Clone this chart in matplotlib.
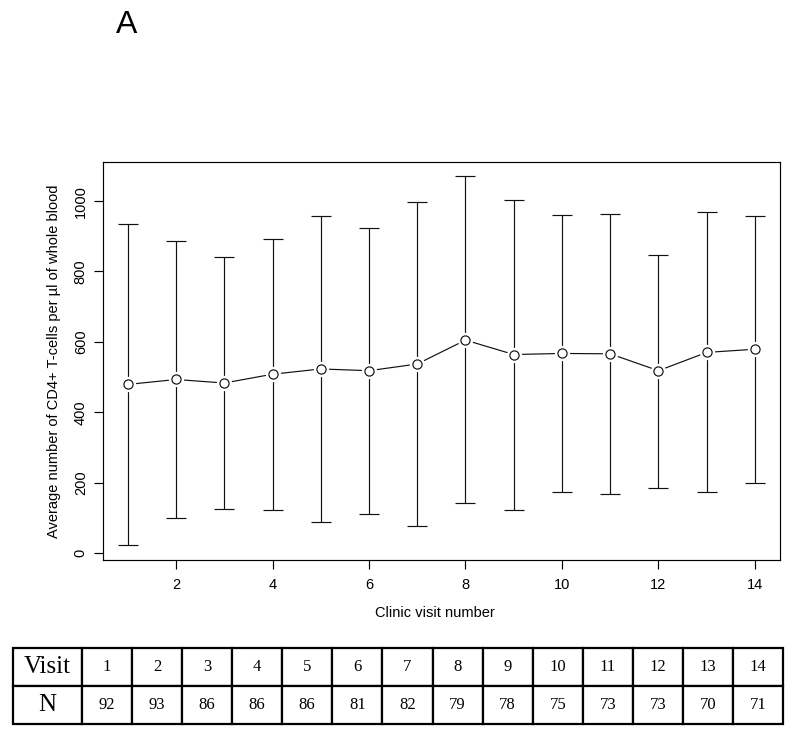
import numpy as np
import matplotlib
matplotlib.use("Agg")
import matplotlib.pyplot as plt

# values
visits = np.arange(1, 15)
mean_cd4 = [479, 493, 483, 508, 523, 518, 537, 605, 564, 567, 566, 518, 570, 579]
upper_cd4 = [935, 888, 842, 893, 957, 924, 997, 1071, 1002, 960, 962, 848, 968, 959]
lower_cd4 = [22, 99, 125, 122, 88, 112, 77, 141, 123, 172, 168, 186, 173, 198]
n_patients = [92, 93, 86, 86, 86, 81, 82, 79, 78, 75, 73, 73, 70, 71]

plt.rcParams['font.family'] = ['Liberation Sans', 'DejaVu Sans']

fig = plt.figure(figsize=(8, 7.35), dpi=100)
ax = fig.add_axes([0.1284, 0.2381, 0.975 - 0.1284, 0.78 - 0.2381])

mean_arr = np.array(mean_cd4)
yerr = [mean_arr - np.array(lower_cd4), np.array(upper_cd4) - mean_arr]
ax.errorbar(visits, mean_cd4, yerr=yerr, fmt='none', ecolor='#111111',
            elinewidth=0.85, capsize=7.2, capthick=0.85, zorder=1)
ax.plot(visits, mean_cd4, color='#111111', lw=0.85, zorder=2)
# white halo so the lines stop short of the circles (R type="b")
ax.plot(visits, mean_cd4, 'o', ms=11, mfc='white', mec='none', zorder=3)
ax.plot(visits, mean_cd4, 'o', ms=6.6, mfc='white', mec='#111111', mew=0.85, zorder=4)

ax.set_xlim(0.48, 14.52)
ax.set_ylim(-20, 1112)
ax.set_xticks(np.arange(2, 15, 2))
ax.set_yticks(np.arange(0, 1001, 200))
ax.tick_params(axis='both', labelsize=10.5, length=6.7, width=0.85)
ax.tick_params(axis='x', pad=6.5)
ax.tick_params(axis='y', pad=4)
for lab in ax.get_yticklabels():
    lab.set_rotation(90)
    lab.set_va('center')
for s in ax.spines.values():
    s.set_linewidth(0.85)
ax.set_xlabel("Clinic visit number", fontsize=10.5, labelpad=11)
ax.xaxis.set_label_coords(0.49, -0.115)
ax.set_ylabel("Average number of CD4+ T-cells per \u00b5l of whole blood", fontsize=10.5, labelpad=9)

fig.text(126.7 / 800, 1 - 33 / 735, "A", fontsize=23, ha='center', va='baseline')

# table of patient counts
tax = fig.add_axes([13.3 / 800, 1 - 724.3 / 735, 770 / 800, 76.6 / 735])
tax.axis('off')
rows = [["Visit"] + [str(v) for v in visits], ["N"] + [str(n) for n in n_patients]]
widths = [68.4] + [50.1] * 14
widths = [w / sum(widths) for w in widths]
tbl = tax.table(cellText=rows, colWidths=widths, bbox=[0, 0, 1, 1], cellLoc='center')
tbl.auto_set_font_size(False)
for (r, c), cell in tbl.get_celld().items():
    cell.set_linewidth(1.6)
    cell.set_edgecolor('black')
    txt = cell.get_text()
    txt.set_family('Liberation Serif')
    txt.set_fontsize(18 if c == 0 else 12)

fig.savefig("out.png", dpi=100)
